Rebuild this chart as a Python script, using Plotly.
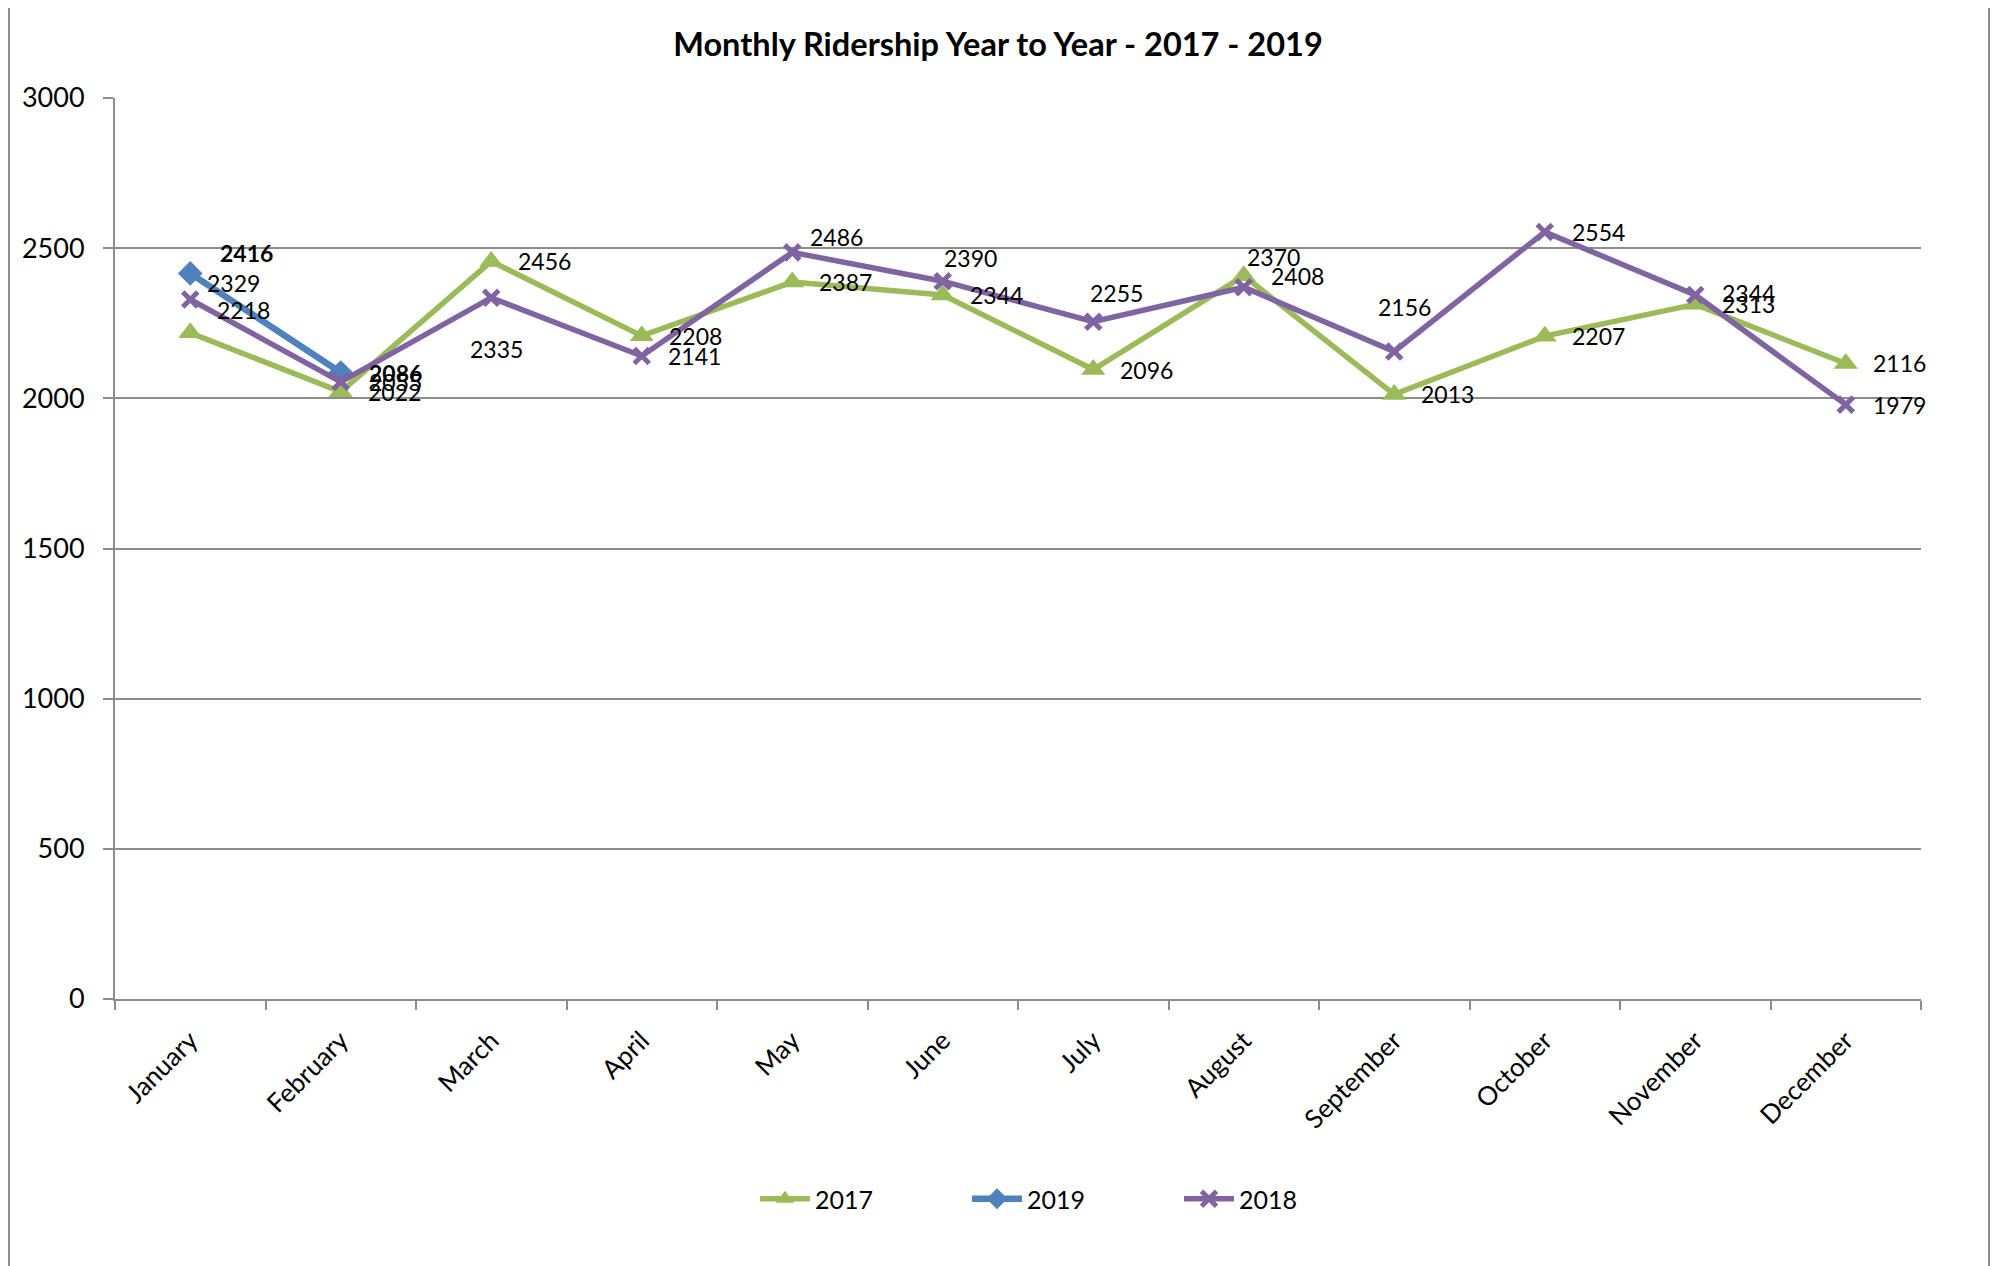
import plotly.graph_objects as go

months = ["January", "February", "March", "April", "May", "June", "July",
          "August", "September", "October", "November", "December"]
y2017 = [2218, 2022, 2456, 2208, 2387, 2344, 2096, 2408, 2013, 2207, 2313, 2116]
y2018 = [2329, 2055, 2335, 2141, 2486, 2390, 2255, 2370, 2156, 2554, 2344, 1979]
y2019 = [2416, 2086]
y_ticks = [0, 500, 1000, 1500, 2000, 2500, 3000]

# label offsets in pixels (dx to left edge of label, dy upward), styling only
off2017 = [(25, 23)] + [(25, 0)] * 11
off2018 = [(15, 17), (26, 0), ("c5", -51), (24, 0), (16, 15), (-1, 23), (-5, 29),
           (1, 30), (-18, 44), (25, 0), (25, 2), (25, 0)]
off2019 = [(28, 20), (26, 0)]

GREEN = "#9BBB59"
BLUE = "#4F81BD"
PURPLE = "#8064A2"
GRID = "#8C8C8C"
FONT = "Lato"

# page has an 8px body margin; lay out in figure pixels accordingly
W, H = 1991, 1258
L, T = 107, 90
PW, PH = 1806, 901

fig = go.Figure()
fig.add_trace(go.Scatter(
    x=months, y=y2017, name="2017", mode="lines+markers",
    line=dict(color=GREEN, width=5.5),
    marker=dict(symbol="triangle-up", size=21, color=GREEN)))
fig.add_trace(go.Scatter(
    x=months[:len(y2019)], y=y2019, name="2019", mode="lines+markers",
    line=dict(color=BLUE, width=6.5),
    marker=dict(symbol="diamond", size=19, color=BLUE)))
fig.add_trace(go.Scatter(
    x=months, y=y2018, name="2018", mode="lines+markers",
    line=dict(color=PURPLE, width=5.5),
    marker=dict(symbol="x-thin", size=15, color=PURPLE,
                line=dict(color=PURPLE, width=5))))

annotations = []


def add_labels(values, offsets, bold=False):
    for m, v, (dx, dy) in zip(months, values, offsets):
        txt = f"<b>{v}</b>" if bold else str(v)
        if isinstance(dx, str):
            xa, dxv = "center", int(dx[1:])
        else:
            xa, dxv = "left", dx
        annotations.append(dict(
            x=m, y=v, xref="x", yref="y", text=txt, showarrow=False,
            xanchor=xa, yanchor="middle", xshift=dxv, yshift=dy,
            font=dict(family=FONT, size=23, color="black")))


add_labels(y2017, off2017)
add_labels(y2018, off2018)
add_labels(y2019, off2019, bold=True)

fig.update_layout(
    width=W, height=H,
    paper_bgcolor="white", plot_bgcolor="white",
    margin=dict(l=L, r=W - L - PW, t=T, b=H - T - PH),
    font=dict(family=FONT, size=26, color="black"),
    title=dict(text="<b>Monthly Ridership Year to Year - 2017 - 2019</b>",
               x=(998 - 8) / W, xanchor="center", y=1 - (45 - 8) / H,
               yanchor="middle",
               font=dict(family=FONT, size=32.5, color="black")),
    showlegend=True,
    legend=dict(orientation="h", x=(761 - 8 - 6 - L) / PW, xanchor="left",
                y=-(1199 - 8 - (T + PH)) / PH, yanchor="middle",
                entrywidth=147, entrywidthmode="pixels", itemwidth=50,
                font=dict(family=FONT, size=25, color="black"),
                bgcolor="rgba(0,0,0,0)"),
    annotations=annotations,
    shapes=[dict(type="rect", xref="paper", yref="paper",
                 x0=(9 - 8 - L) / PW, x1=(1989 - 8 - L) / PW,
                 y0=-0.45, y1=(T + PH - (2 - 8)) / PH,
                 line=dict(color="#8C8C8C", width=2), fillcolor="rgba(0,0,0,0)",
                 layer="below")],
)

fig.update_xaxes(
    type="category", range=[-0.5, 11.5], tickangle=-45,
    tickson="boundaries", ticks="outside", ticklen=9, tickwidth=2, tickcolor=GRID,
    ticklabelstandoff=14,
    showline=True, linecolor=GRID, linewidth=2, showgrid=False,
    tickfont=dict(family=FONT, size=26, color="black"))
fig.update_yaxes(
    range=[0, 3000], tickvals=y_ticks, ticktext=[str(t) for t in y_ticks],
    ticks="outside", ticklen=10, tickwidth=2, tickcolor=GRID,
    ticklabelstandoff=13,
    showline=True, linecolor=GRID, linewidth=2,
    showgrid=True, gridcolor=GRID, gridwidth=2, zeroline=False,
    tickfont=dict(family=FONT, size=27, color="black"))

fig.write_html("out.html")
